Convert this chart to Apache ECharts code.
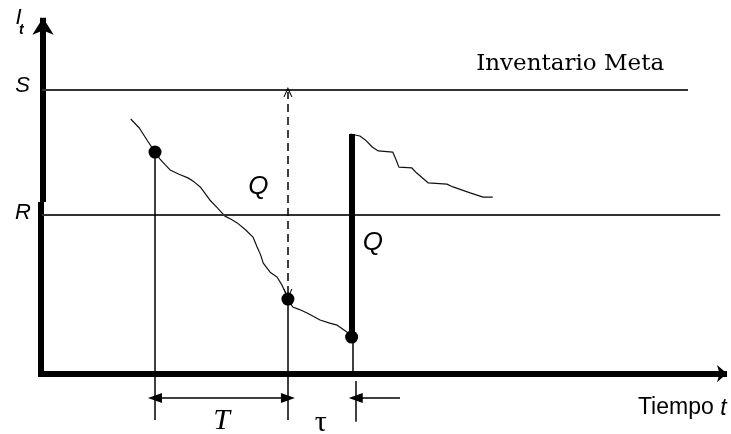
<!DOCTYPE html>
<html>
<head>
<meta charset="utf-8">
<script src="https://cdn.jsdelivr.net/npm/echarts@6/dist/echarts.min.js"></script>
<style>
  html, body { margin: 0; padding: 0; background: #fff; }
  #chart { width: 731px; height: 434px; }
</style>
</head>
<body>
<div id="chart"></div>
<script>
// inventory levels (S = target, R = reorder point) and where their lines stop
var levelNames = ['S', 'R'];
var levelValues = [100, 56];
var levelEnds = [94.3, 99];

// review instants and arrival of the order
var reviewTimes = [16.5, 35.9];
var arrivalTime = 45.2;
var arrivalTop = 84.4;

// inventory path before the order arrives
var pathBefore = [[12.95, 89.7], [14.2, 86.5], [15.4, 82], [16.5, 78], [17.2, 75.6], [18.0, 73.5],
  [18.7, 71.7], [20.0, 70.2], [21.3, 68.9], [22.2, 67.5], [23.1, 65.7], [24.5, 61.1],
  [25.6, 58.3], [26.7, 55.4], [27.6, 54.3], [28.5, 53.0], [29.7, 50.6], [30.8, 48.0],
  [31.4, 44.5], [31.9, 41.8], [32.3, 38.8], [33.3, 35.6], [34.3, 33.9], [35.0, 31.2],
  [35.5, 28.6], [35.9, 26.1], [36.6, 23.3], [37.6, 22.4], [38.7, 21.2], [40.6, 18.7],
  [42.0, 17.6], [43.1, 16.9], [44.5, 14.5], [45.2, 12.7]];

// inventory path after the order arrives
var pathAfter = [[45.0, 84.4], [46.4, 83.7], [47.2, 82.3], [48.2, 79.8], [49.1, 78.4],
  [51.2, 78.0], [51.7, 75.2], [52.1, 72.7], [54.0, 72.4], [54.7, 70.6], [56.4, 67.1],
  [59.1, 66.7], [60.0, 65.7], [62.5, 63.6], [64.4, 62.1], [65.8, 62.1]];

var dotPoints = [[16.5, 78], [35.9, 26.1], [45.2, 12.7]];
var orderQty = [27.9, 99.2];   // dashed Q arrow, from level at review up to S

var X_MIN = -6.13, X_MAX = 100.58, Y_MIN = -21.54, Y_MAX = 131.71;
var dimY = -8.8, dropY = -16.6;

var chart = echarts.init(document.getElementById('chart'));

function seg(a, b, style, s0, s1) {
  return [
    { coord: a, symbol: s0 ? s0.symbol : 'none', symbolSize: s0 ? s0.size : 0 },
    { coord: b, symbol: s1 ? s1.symbol : 'none', symbolSize: s1 ? s1.size : 0, lineStyle: style }
  ];
}

var thin = { color: '#000', width: 1.5, type: 'solid' };
var levelStyle = { color: '#333', width: 2, type: 'solid' };
var thick = { color: '#000', width: 6, type: 'solid' };
var tri = { symbol: 'triangle', size: [10, 14] };
var chevron = { symbol: 'path://M0,0 L6,10 L4.6,10 L0,2.6 L-4.6,10 L-6,10 Z', size: [9, 10] };

var lines = [
  // axes
  seg([-0.18, -1.4], [-0.18, 60.4], thick),
  seg([0.15, 60.4], [0.15, 125.4], thick, null, { symbol: 'arrow', size: [16, 17] }),
  seg([0, -0.2], [100, -0.2], thick, null, { symbol: 'arrow', size: [13, 10] }),
  // levels
  seg([0, levelValues[0]], [levelEnds[0], levelValues[0]], levelStyle),
  seg([0, levelValues[1]], [levelEnds[1], levelValues[1]], levelStyle),
  // drop lines at review instants
  seg([reviewTimes[0], dotPoints[0][1]], [reviewTimes[0], dropY], thin),
  seg([reviewTimes[1], dotPoints[1][1]], [reviewTimes[1], dropY], thin),
  // arrival jump
  seg([arrivalTime, arrivalTop], [arrivalTime, dotPoints[2][1]], thick),
  seg([arrivalTime + 0.2, dotPoints[2][1]], [arrivalTime + 0.2, 0], thin),
  seg([45.77, -2.8], [45.77, -17.2], thin),
  // T and tau dimensions
  seg([reviewTimes[0], dimY], [reviewTimes[1], dimY], thin, tri, tri),
  seg([52.26, dimY], [45.8, dimY], thin, null, tri),
  // dashed Q arrow
  seg([reviewTimes[1], orderQty[0]], [reviewTimes[1], orderQty[1]],
    { color: '#000', width: 1.5, type: [8, 5] }, chevron, chevron)
];

var sansI = 'Liberation Sans';
function note(pos, text, label) {
  return { value: pos, label: Object.assign({ show: true, formatter: text, position: 'inside',
    color: '#000', fontFamily: sansI, fontStyle: 'italic', fontSize: 22 }, label) };
}

var notes = [
  note([-3.43, 125.5], 'I', { fontSize: 22 }),
  note([-3.0, 121.0], 't', { fontSize: 14, fontWeight: 'bold' }),
  note([-2.85, levelValues[0] + 1.3], levelNames[0], { fontSize: 22 }),
  note([-2.77, levelValues[1] + 0.5], levelNames[1], { fontSize: 22 }),
  note([31.6, 65.9], 'Q', { fontSize: 26 }),
  note([48.3, 45.9], 'Q', { fontSize: 26 }),
  note([26.2, -16.9], 'T', { fontFamily: 'Liberation Serif', fontSize: 30 }),
  note([40.7, -17.7], 'τ', { fontFamily: 'Liberation Serif', fontStyle: 'normal', fontSize: 30 }),
  note([77.1, 109.1], 'Inventario Meta', { fontFamily: 'DejaVu Serif', fontStyle: 'normal', fontSize: 23 }),
  note([100, -12.4], '{a|Tiempo }{b|t}', { position: 'left', distance: 0, fontStyle: 'normal',
    rich: { a: { fontFamily: sansI, fontStyle: 'normal', fontSize: 23, color: '#000' },
            b: { fontFamily: sansI, fontStyle: 'italic', fontSize: 23, color: '#000' } } })
];

var option = {
  animation: false,
  grid: { left: 0, right: 0, top: 0, bottom: 0 },
  xAxis: { type: 'value', min: X_MIN, max: X_MAX, show: false },
  yAxis: { type: 'value', min: Y_MIN, max: Y_MAX, show: false },
  series: [
    {
      type: 'line', name: 'guides', data: [], silent: true,
      markLine: { silent: true, animation: false, label: { show: false },
        emphasis: { disabled: true }, data: lines }
    },
    {
      type: 'line', name: 'antes', data: pathBefore, symbol: 'none', silent: true,
      lineStyle: { color: '#111', width: 1.2 }
    },
    {
      type: 'line', name: 'despues', data: pathAfter, symbol: 'none', silent: true,
      lineStyle: { color: '#111', width: 1.2 }
    },
    {
      type: 'scatter', name: 'puntos', data: dotPoints, symbolSize: 13, z: 5, silent: true,
      itemStyle: { color: '#000', opacity: 1 }
    },
    {
      type: 'scatter', name: 'textos', data: notes, symbolSize: 1, silent: true,
      itemStyle: { color: 'rgba(0,0,0,0)', opacity: 1 }
    }
  ]
};
chart.setOption(option);
</script>
</body>
</html>
